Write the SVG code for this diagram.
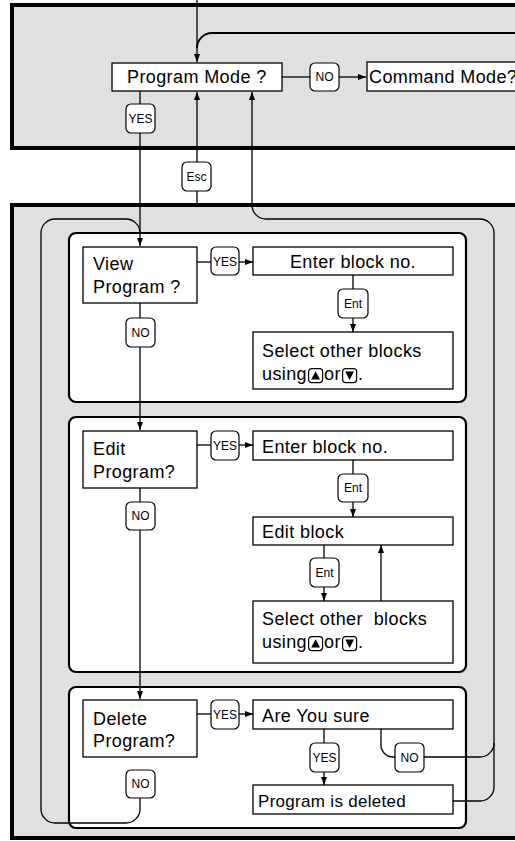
<svg xmlns="http://www.w3.org/2000/svg" xmlns:xlink="http://www.w3.org/1999/xlink" width="515" height="841" viewBox="0 0 515 841">
<style>
.panel{fill:#e0e0e0;stroke:#000;stroke-width:4}
.sub{fill:#fff;stroke:#000;stroke-width:2.2}
.box{fill:#fff;stroke:#000;stroke-width:1.3}
.lbl{fill:#fff;stroke:#000;stroke-width:1.2}
.ln{fill:none;stroke:#000;stroke-width:1.3}
.t{font-family:"Liberation Sans",Arial,sans-serif;font-size:18px;letter-spacing:0.4px;fill:#000}
.s{font-family:"Liberation Sans",Arial,sans-serif;font-size:12px;fill:#000;text-anchor:middle}
</style>
<defs>
<marker id="ah" viewBox="0 0 8 6" refX="8" refY="3" markerWidth="8" markerHeight="6" markerUnits="userSpaceOnUse" orient="auto">
<path d="M0,0 L8,3 L0,6 Z" fill="#000"/>
</marker>
<g id="up"><rect x="0.6" y="0.6" width="14" height="14" rx="3" fill="#fff" stroke="#000" stroke-width="1.2"/><path d="M7.6,3.2 L12,11.6 H3.2 Z" fill="#000"/></g>
<g id="dn"><rect x="0.6" y="0.6" width="14" height="14" rx="3" fill="#fff" stroke="#000" stroke-width="1.2"/><path d="M3.2,3.6 H12 L7.6,12 Z" fill="#000"/></g>
</defs>

<g id="panel-top"><rect class="panel" x="12" y="5" width="520" height="143"/></g>
<g id="panel-bottom"><rect class="panel" x="12" y="205" width="520" height="633"/></g>
<g id="panel-view"><rect class="sub" x="69" y="233" width="397" height="169" rx="7"/></g>
<g id="panel-edit"><rect class="sub" x="69" y="417" width="397" height="255" rx="7"/></g>
<g id="panel-delete"><rect class="sub" x="69" y="687" width="397" height="141" rx="7"/></g>

<g id="connectors">
<path class="ln" d="M197,0 V62" marker-end="url(#ah)"/>
<path class="ln" style="stroke-width:2" d="M515,33 H212 A15,15 0 0 0 197,48"/>
<path class="ln" d="M282,77 H310"/>
<path class="ln" d="M339,77 H366" marker-end="url(#ah)"/>
<path class="ln" d="M140,91 V246" marker-end="url(#ah)"/>
<path class="ln" d="M197,205 V92" marker-end="url(#ah)"/>
<path class="ln" d="M453,801 H480 A14,14 0 0 0 494,787 V233 A14,14 0 0 0 480,219 H266 A14,14 0 0 1 252,205 V92" marker-end="url(#ah)"/>
<path class="ln" d="M424,757 H480 A14,14 0 0 0 494,743"/>
<path class="ln" d="M381,729 V745 A12,12 0 0 0 393,757 H395"/>
<path class="ln" d="M140,798 V809 A14,14 0 0 1 126,823 H55 A14,14 0 0 1 41,809 V233 A14,14 0 0 1 55,219 H126 A14,14 0 0 1 140,233"/>
<path class="ln" d="M140,303 V430" marker-end="url(#ah)"/>
<path class="ln" d="M140,488 V699" marker-end="url(#ah)"/>
<path class="ln" d="M197,262 H211"/>
<path class="ln" d="M239,262 H253" marker-end="url(#ah)"/>
<path class="ln" d="M197,445 H211"/>
<path class="ln" d="M239,445 H253" marker-end="url(#ah)"/>
<path class="ln" d="M197,714 H211"/>
<path class="ln" d="M239,714 H253" marker-end="url(#ah)"/>
<path class="ln" d="M353,275 V289"/>
<path class="ln" d="M353,318 V332" marker-end="url(#ah)"/>
<path class="ln" d="M353,460 V474"/>
<path class="ln" d="M353,502 V517" marker-end="url(#ah)"/>
<path class="ln" d="M324,545 V558"/>
<path class="ln" d="M324,587 V601" marker-end="url(#ah)"/>
<path class="ln" d="M381,601 V545" marker-end="url(#ah)"/>
<path class="ln" d="M324,729 V743"/>
<path class="ln" d="M324,772 V785" marker-end="url(#ah)"/>

<g id="labels">
<rect class="lbl" x="126" y="104" width="29" height="29" rx="5"/><text class="s" x="140.5" y="122.5">YES</text>
<rect class="lbl" x="182" y="162" width="29" height="29" rx="5"/><text class="s" x="196.5" y="180.5">Esc</text>
<rect class="lbl" x="310" y="63" width="29" height="28" rx="5"/><text class="s" x="324.5" y="81">NO</text>
<rect class="lbl" x="211" y="247" width="28" height="28" rx="5"/><text class="s" x="225" y="265.5">YES</text>
<rect class="lbl" x="126" y="318" width="29" height="29" rx="5"/><text class="s" x="140.5" y="336.5">NO</text>
<rect class="lbl" x="338" y="289" width="30" height="29" rx="5"/><text class="s" x="353" y="307.5">Ent</text>
<rect class="lbl" x="211" y="431" width="28" height="29" rx="5"/><text class="s" x="225" y="449.5">YES</text>
<rect class="lbl" x="126" y="502" width="29" height="28" rx="5"/><text class="s" x="140.5" y="520">NO</text>
<rect class="lbl" x="338" y="474" width="30" height="28" rx="5"/><text class="s" x="353" y="492">Ent</text>
<rect class="lbl" x="310" y="558" width="29" height="29" rx="5"/><text class="s" x="324.5" y="576.5">Ent</text>
<rect class="lbl" x="211" y="700" width="28" height="29" rx="5"/><text class="s" x="225" y="718.5">YES</text>
<rect class="lbl" x="310" y="743" width="29" height="29" rx="5"/><text class="s" x="324.5" y="761.5">YES</text>
<rect class="lbl" x="395" y="743" width="29" height="29" rx="5"/><text class="s" x="409.5" y="761.5">NO</text>
<rect class="lbl" x="126" y="770" width="29" height="28" rx="5"/><text class="s" x="140.5" y="788">NO</text>
</g>
</g>

<g id="program-mode"><rect class="box" x="112" y="63" width="170" height="28"/><text class="t" x="127" y="83">Program Mode ?</text></g>
<g id="command-mode"><rect class="box" x="367" y="62" width="170" height="29"/><text class="t" x="369" y="83">Command Mode?</text></g>

<g id="view-program"><rect class="box" x="83" y="247" width="114" height="56"/><text class="t" x="93" y="270">View</text><text class="t" x="93" y="293">Program ?</text></g>
<g id="view-enter"><rect class="box" x="253" y="247" width="200" height="28"/><text class="t" x="353" y="268" text-anchor="middle">Enter block no.</text></g>
<g id="view-select"><rect class="box" x="253" y="332" width="200" height="57"/><text class="t" x="262" y="357">Select other blocks</text><text class="t" x="262" y="380">using</text><use xlink:href="#up" x="308" y="368"/><text class="t" x="324" y="380">or</text><use xlink:href="#dn" x="342" y="368"/><text class="t" x="358" y="380">.</text></g>

<g id="edit-program"><rect class="box" x="83" y="431" width="114" height="57"/><text class="t" x="93" y="455">Edit</text><text class="t" x="93" y="478">Program?</text></g>
<g id="edit-enter"><rect class="box" x="253" y="431" width="200" height="29"/><text class="t" x="262" y="453">Enter block no.</text></g>
<g id="edit-block"><rect class="box" x="253" y="517" width="200" height="28"/><text class="t" x="262" y="538">Edit block</text></g>
<g id="edit-select"><rect class="box" x="253" y="601" width="200" height="62"/><text class="t" x="262" y="625" xml:space="preserve">Select other  blocks</text><text class="t" x="262" y="648">using</text><use xlink:href="#up" x="308" y="636"/><text class="t" x="324" y="648">or</text><use xlink:href="#dn" x="342" y="636"/><text class="t" x="358" y="648">.</text></g>

<g id="delete-program"><rect class="box" x="83" y="700" width="114" height="57"/><text class="t" x="93" y="725">Delete</text><text class="t" x="93" y="747">Program?</text></g>
<g id="are-you-sure"><rect class="box" x="253" y="700" width="200" height="29"/><text class="t" x="262" y="722">Are You sure</text></g>
<g id="program-deleted"><rect class="box" x="253" y="785" width="200" height="29"/><text class="t" x="258" y="807" style="font-size:17px;letter-spacing:0.3px">Program is deleted</text></g>
</svg>
